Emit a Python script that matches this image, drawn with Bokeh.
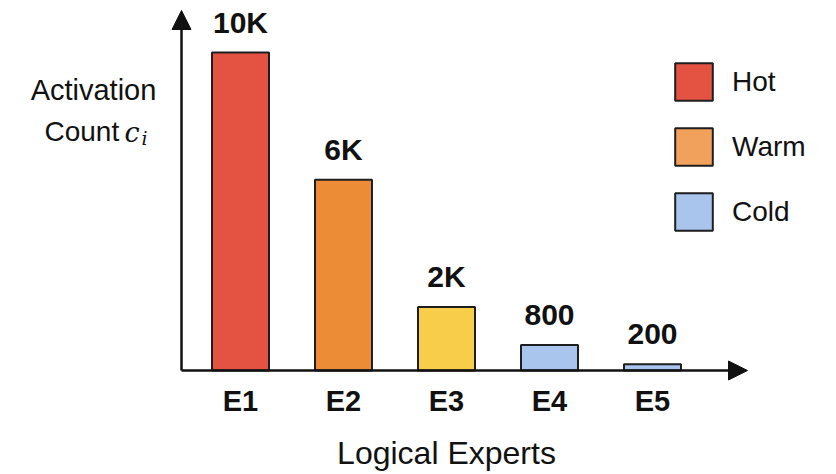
from bokeh.plotting import figure
from bokeh.models import (Range1d, Arrow, NormalHead, Label, LabelSet,
                          ColumnDataSource, Legend, LegendItem)
from bokeh.core.properties import value
from bokeh.embed import file_html
from bokeh.resources import INLINE

# Activation counts per logical expert
experts = ["E1", "E2", "E3", "E4", "E5"]
counts = [10000, 6000, 2000, 800, 200]
count_labels = ["10K", "6K", "2K", "800", "200"]
bar_colors = ["#E45242", "#EC8C36", "#F8CD4A", "#A9C5EE", "#A9C5EE"]

# Legend tiers
tiers = ["Hot", "Warm", "Cold"]
tier_colors = ["#E45242", "#F2A15C", "#A9C5EE"]

W, H = 836, 474
AXIS_PX_X, AXIS_PX_Y = 181, 370      # where the two axes meet
FIRST_BAR_PX = 240                    # centre of the first bar
PX_PER_SLOT = 103.0
PX_PER_COUNT = 318.0 / 10000.0
NAN = float("nan")


def px_x(px):
    return 1 + (px - FIRST_BAR_PX) / PX_PER_SLOT


def px_y(py):
    return (AXIS_PX_Y - py) / PX_PER_COUNT


FONT = "Liberation Sans"
INK = "#111111"

p = figure(width=W, height=H,
           x_range=Range1d(px_x(0), px_x(W)), y_range=Range1d(px_y(H), px_y(0)),
           output_backend="svg", toolbar_location=None, min_border=0)
p.axis.visible = False
p.grid.visible = False
p.outline_line_color = None
p.background_fill_color = "white"
p.border_fill_color = "white"

xs = list(range(1, len(experts) + 1))
src = ColumnDataSource(dict(x=xs, top=counts, label=count_labels,
                            color=bar_colors, name=experts))

p.vbar(x="x", top="top", bottom=0, width=57 / PX_PER_SLOT, source=src,
       fill_color="color", line_color="#1e1e1e", line_width=2)

# value labels above the bars
p.add_layout(LabelSet(x="x", y="top", text="label", source=src, y_offset=20,
                      text_align="center", text_baseline="alphabetic",
                      text_font=value(FONT), text_font_style="bold",
                      text_font_size="30px", text_color=INK))

# expert names under the x axis
p.add_layout(LabelSet(x="x", y=0, text="name", source=src, y_offset=-40,
                      text_align="center", text_baseline="alphabetic",
                      text_font=value(FONT), text_font_style="bold",
                      text_font_size="29px", text_color=INK))

# axes drawn as arrows
x_axis0 = px_x(AXIS_PX_X)
head = dict(size=19, fill_color=INK, line_color=INK, line_width=1)
p.add_layout(Arrow(x_start=x_axis0, y_start=0, x_end=px_x(747), y_end=0,
                   line_width=2.5, line_color=INK, end=NormalHead(**head)))
p.add_layout(Arrow(x_start=x_axis0, y_start=0, x_end=x_axis0, y_end=px_y(10),
                   line_width=2.5, line_color=INK, end=NormalHead(**head)))

# axis titles
p.add_layout(Label(x=3, y=px_y(452), text="Logical Experts",
                   text_align="center", text_baseline="alphabetic",
                   text_font=FONT, text_font_size="32px", text_color=INK))

p.add_layout(Label(x=px_x(93), y=px_y(89), text="Activation",
                   text_align="center", text_baseline="alphabetic",
                   text_font=FONT, text_font_size="29px", text_color=INK))
p.add_layout(Label(x=px_x(44), y=px_y(131), text="Count",
                   text_align="left", text_baseline="alphabetic",
                   text_font=FONT, text_font_size="28px", text_color=INK))
p.add_layout(Label(x=px_x(124), y=px_y(132), text="c",
                   text_align="left", text_baseline="alphabetic",
                   text_font="DejaVu Serif", text_font_style="italic",
                   text_font_size="27px", text_color=INK))
p.add_layout(Label(x=px_x(141), y=px_y(137), text="i",
                   text_align="left", text_baseline="alphabetic",
                   text_font="DejaVu Serif", text_font_style="italic",
                   text_font_size="19px", text_color=INK))

# legend swatches: one undrawn quad per tier carries the swatch style
items = []
for name, col in zip(tiers, tier_colors):
    r = p.quad(left=[NAN], right=[NAN], top=[NAN], bottom=[NAN],
               fill_color=col, line_color="#1e1e1e", line_width=2)
    items.append(LegendItem(label=name, renderers=[r]))

# area swatches are drawn at 80% of the glyph box
legend = Legend(items=items, location=(670, H - 235),
                glyph_width=47, glyph_height=47, spacing=18,
                label_standoff=15, padding=0, margin=0,
                border_line_color=None, background_fill_alpha=0,
                label_text_font=FONT, label_text_font_size="28px",
                label_text_color=INK, label_height=47)
p.add_layout(legend)

open("out.html", "w").write(file_html(p, INLINE))
